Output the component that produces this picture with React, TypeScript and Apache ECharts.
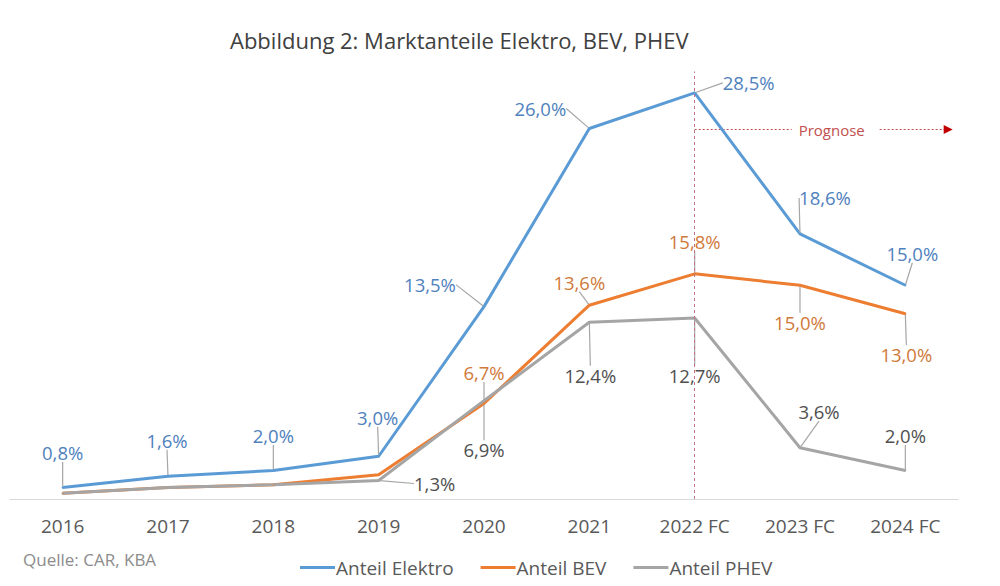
import React, { useEffect, useRef } from "react";
import * as echarts from "echarts";

const categories = ["2016", "2017", "2018", "2019", "2020", "2021", "2022 FC", "2023 FC", "2024 FC"];
const elektro = [0.8, 1.6, 2.0, 3.0, 13.5, 26.0, 28.5, 18.6, 15.0];
const bev = [0.4, 0.8, 1.0, 1.7, 6.7, 13.6, 15.8, 15.0, 13.0];
const phev = [0.4, 0.8, 1.0, 1.3, 6.9, 12.4, 12.7, 3.6, 2.0];
const elektroLabelShown = [true, true, true, true, true, true, true, true, true];
const bevLabelShown = [false, false, false, false, true, true, true, true, true];
const phevLabelShown = [false, false, false, true, true, true, true, true, true];
const seriesNames = ["Anteil Elektro", "Anteil BEV", "Anteil PHEV"];
const titleText = "Abbildung 2: Marktanteile Elektro, BEV, PHEV";
const sourceText = "Quelle: CAR, KBA";
const forecastText = "Prognose";
const forecastStart = "2022 FC";
const forecastLevel = 26.0;

// label offsets (layout, px from point to label centre)
const elektroOffsets: number[][] = [[0, -35], [-1, -36], [0, -35], [-1, -39], [-54, -22], [-49, -20], [54, -10], [25, -36], [7, -32]];
const bevOffsets: (number[] | null)[] = [null, null, null, null, [0, -31], [-10, -23], [0, -32], [0, 37], [1, 41]];
const phevOffsets: (number[] | null)[] = [null, null, null, [56, 3], [0, 49], [1, 53], [0, 57], [19, -36], [0, -35]];

const FONT = "Open Sans";
const COLORS = ["#5b9bd5", "#ed7d31", "#a5a5a5"];
const LABEL_COLORS = ["#4f81bd", "#d0793a", "#505050"];

const fmt = (v: number) => v.toFixed(1).replace(".", ",") + "%";

function makeSeries(idx: number, values: number[], shown: boolean[], offsets: (number[] | null)[]) {
  return {
    name: seriesNames[idx],
    type: "line",
    data: values.map((v, i) => ({ value: v, label: { show: shown[i] } })),
    symbol: "circle",
    symbolSize: 2,
    showSymbol: true,
    lineStyle: { color: COLORS[idx], width: 3 },
    itemStyle: { color: COLORS[idx] },
    emphasis: { disabled: true },
    label: {
      show: true,
      position: "inside",
      formatter: (p: any) => fmt(p.value),
      color: LABEL_COLORS[idx],
      fontFamily: FONT,
      fontSize: 18.5,
      textBorderWidth: 0,
    },
    labelLine: {
      show: true,
      smooth: false,
      lineStyle: { color: "#a6a6a6", width: 1.2 },
    },
    labelLayout: (params: any) => {
      const o = offsets[params.dataIndex];
      return o ? { dx: o[0], dy: o[1] } : {};
    },
  };
}

export default function App() {
  const ref = useRef<HTMLDivElement>(null);
  useEffect(() => {
    if (!ref.current) return;
    const chart = echarts.init(ref.current, null, { renderer: "svg" });
    const elektroSeries: any = makeSeries(0, elektro, elektroLabelShown, elektroOffsets);
    elektroSeries.markLine = {
      symbol: "none",
      silent: true,
      label: { show: false },
      lineStyle: { type: [3, 3], color: "#c0708c", width: 1 },
      data: [{ xAxis: forecastStart }],
    };
    chart.setOption({
      animation: false,
      backgroundColor: "#ffffff",
      title: {
        text: titleText,
        left: 225,
        top: 24,
        textStyle: { fontFamily: FONT, fontSize: 22, fontWeight: "normal", color: "#404040" },
      },
      legend: {
        left: 295,
        top: 553,
        itemWidth: 35,
        itemHeight: 3,
        itemGap: 27,
        icon: "rect",
        textStyle: { fontFamily: FONT, fontSize: 19, color: "#595959", padding: [0, 0, 0, -4] },
        data: seriesNames,
      },
      grid: { left: 10, right: 42, top: 71.5, bottom: 87 },
      xAxis: {
        type: "category",
        data: categories,
        boundaryGap: true,
        axisLine: { show: true, lineStyle: { color: "#d9d9d9", width: 1 } },
        axisTick: { show: false },
        axisLabel: { fontFamily: FONT, fontSize: 19, color: "#595959", margin: 17 },
        splitLine: { show: false },
      },
      yAxis: {
        type: "value",
        min: 0,
        max: 30,
        show: false,
        splitLine: { show: false },
      },
      series: [
        elektroSeries,
        makeSeries(1, bev, bevLabelShown, bevOffsets),
        makeSeries(2, phev, phevLabelShown, phevOffsets),
      ],
    });
    const p = chart.convertToPixel({ gridIndex: 0 }, [forecastStart, forecastLevel]) as number[];
    const x0 = p[0];
    const y = Math.round(p[1]) + 0.5;
    const red = "#c0504d";
    chart.setOption({
      graphic: [
        {
          type: "line",
          shape: { x1: x0, y1: y, x2: x0 + 97, y2: y },
          style: { stroke: red, lineWidth: 1, lineDash: [2, 2] },
          silent: true,
        },
        {
          type: "text",
          x: x0 + 104,
          y: y,
          style: { text: forecastText, fill: red, fontFamily: FONT, fontSize: 15, verticalAlign: "middle", align: "left" },
          silent: true,
        },
        {
          type: "line",
          shape: { x1: x0 + 185, y1: y, x2: x0 + 250, y2: y },
          style: { stroke: red, lineWidth: 1, lineDash: [2, 2] },
          silent: true,
        },
        {
          type: "polygon",
          shape: { points: [[x0 + 249, y - 4.5], [x0 + 258, y], [x0 + 249, y + 4.5]] },
          style: { fill: "#c00000" },
          silent: true,
        },
        {
          type: "text",
          left: 23,
          top: 551,
          style: { text: sourceText, fill: "#8c8c8c", fontFamily: FONT, fontSize: 17 },
          silent: true,
        },
      ],
    });
    return () => chart.dispose();
  }, []);
  return <div ref={ref} style={{ width: 1000, height: 586, margin: -8 }} />;
}
